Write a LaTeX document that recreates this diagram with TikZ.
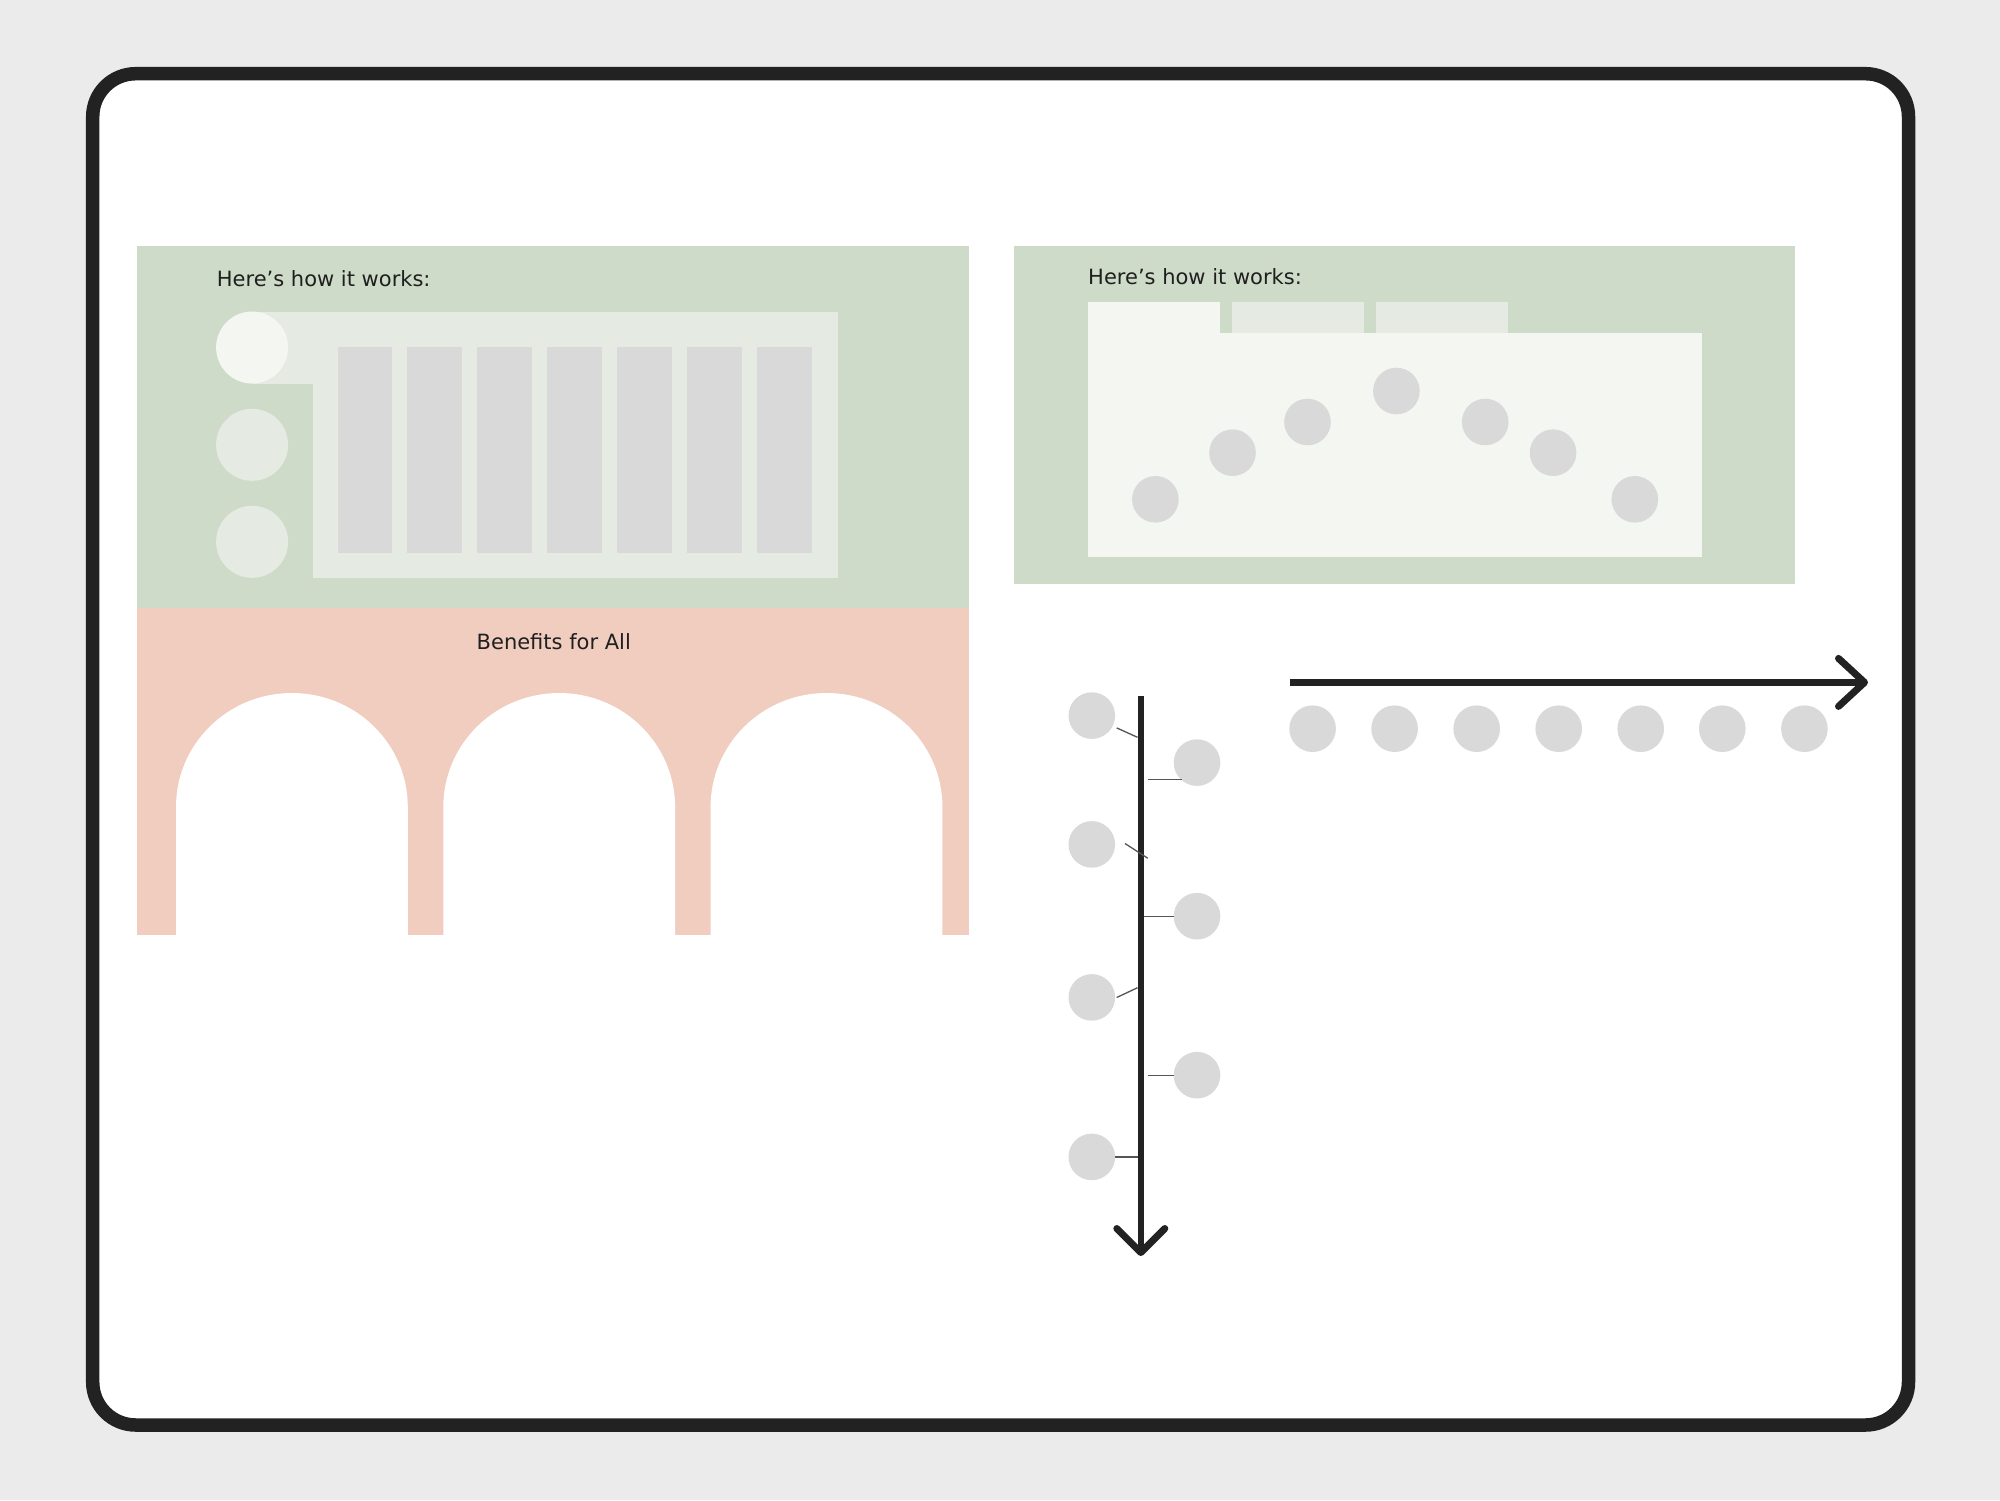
\documentclass[tikz,border=0pt]{standalone}
\usepackage{fontspec}
\setmainfont{DejaVu Sans}
\definecolor{bg}{HTML}{EBEBEB}
\definecolor{framec}{HTML}{222222}
\definecolor{sage}{HTML}{CFDBC9}
\definecolor{sagelight}{HTML}{E5EBE3}
\definecolor{paper}{HTML}{F4F6F2}
\definecolor{dotc}{HTML}{D9D9D9}
\definecolor{blush}{HTML}{F0CDBF}
\definecolor{ink}{HTML}{1F1F1F}
\definecolor{thinc}{HTML}{555555}
\begin{document}
\begin{tikzpicture}[x=1pt,y=-1pt,
  dotnode/.style={circle, fill=dotc, minimum size=46.6pt, inner sep=0pt, draw=none},
  softdot/.style={circle, minimum size=72pt, inner sep=0pt, draw=none},
  label text/.style={text=ink, inner sep=0pt, font=\fontsize{21}{25}\selectfont},
  axisline/.style={draw=framec, line width=6.5pt},
  chevron/.style={draw=framec, line width=7pt, line cap=round, line join=round},
  tick/.style={draw=thinc, line width=1.3pt}]
% background and bounds
\fill[bg] (0,0) rectangle (2000,1500);
\useasboundingbox (0,0) rectangle (2000,1500);
% frame
\draw[framec, fill=white, line width=13.5pt, rounded corners=43pt] (92.7,73.7) rectangle (1908.5,1425);

% ---------- left green panel ----------
\fill[sage] (136.5,246) rectangle (969.4,607.5);
\node[label text, anchor=base west] (t1) at (216.7,286) {Here’s how it works:};
\fill[sagelight] (312.5,311.7) rectangle (838.4,577.7);
\fill[sagelight] (252,311.7) rectangle (312.6,383.5);
\node[softdot, fill=paper] (c1) at (252.1,347.5) {};
\node[softdot, fill=sagelight] (c2) at (252.1,444.8) {};
\node[softdot, fill=sagelight] (c3) at (252.1,541.8) {};
\foreach \i in {0,...,6}{
  \fill[dotc] ({337.5+69.9*\i},347) rectangle ({392.1+69.9*\i},552.7);
}

% ---------- pink panel with arches ----------
\fill[blush] (136.5,607.5) rectangle (969.4,935);
\node[label text, anchor=base] (t2) at (553.8,649) {Benefits for All};
\foreach \cx in {291.9,559.2,826.5}{
  \fill[white] ({\cx-115.9},935) -- ({\cx-115.9},807) arc[start angle=180, end angle=360, x radius=115.9, y radius=114] -- ({\cx+115.9},935) -- cycle;
}

% ---------- right green panel ----------
\fill[sage] (1014,246) rectangle (1794.6,584);
\node[label text, anchor=base west] (t3) at (1088,284) {Here’s how it works:};
\fill[paper] (1088,302) rectangle (1220.2,335);
\fill[sagelight] (1232,302) rectangle (1364.2,334);
\fill[sagelight] (1375.9,302) rectangle (1508.2,334);
\fill[paper] (1088,333.3) rectangle (1702,556.7);
\node[dotnode] (p1) at (1155.4,499.3) {};
\node[dotnode] (p2) at (1232.5,452.7) {};
\node[dotnode] (p3) at (1307.5,422) {};
\node[dotnode] (p4) at (1396.4,391) {};
\node[dotnode] (p5) at (1485.2,422) {};
\node[dotnode] (p6) at (1553.1,452.7) {};
\node[dotnode] (p7) at (1634.8,499.3) {};

% ---------- horizontal arrow ----------
\coordinate (hs) at (1289.7,682.4);
\coordinate (ht) at (1864.5,682.4);
\draw[axisline] (hs) -- (ht);
\draw[chevron] (1838.5,658.4) -- (ht) -- (1838.5,706.4);
\foreach \x [count=\k] in {1312.6,1394.6,1476.7,1558.7,1640.7,1722.3,1804.4}{
  \node[dotnode] (h\k) at (\x,728.7) {};
}

% ---------- vertical timeline ----------
\coordinate (vs) at (1140.8,696.4);
\coordinate (vt) at (1140.8,1252.5);
\draw[axisline] (vs) -- (vt);
\draw[chevron] (1116.8,1228.5) -- (vt) -- (1164.8,1228.5);
\node[dotnode] (l1) at (1091.8,715.6) {};
\node[dotnode] (l2) at (1091.8,844.4) {};
\node[dotnode] (l3) at (1091.8,997.4) {};
\node[dotnode] (l4) at (1091.8,1156.9) {};
\node[dotnode] (r1) at (1197,762.6) {};
\node[dotnode] (r2) at (1197,916.2) {};
\node[dotnode] (r3) at (1197,1075.2) {};
\draw[tick] (1116.7,727.9) -- (1137.5,737.3);
\draw[tick] (1147.7,779.8) -- (1182,779.8);
\draw[tick] (1125,843.5) -- (1147.7,858.2);
\draw[tick] (1144,916.2) -- (r2.west);
\draw[tick] (1116.7,997.5) -- (1137.5,987.7);
\draw[tick] (1147.7,1075.2) -- (r3.west);
\draw[tick] (l4.east) -- (1137.5,1156.9);
\end{tikzpicture}
\end{document}
